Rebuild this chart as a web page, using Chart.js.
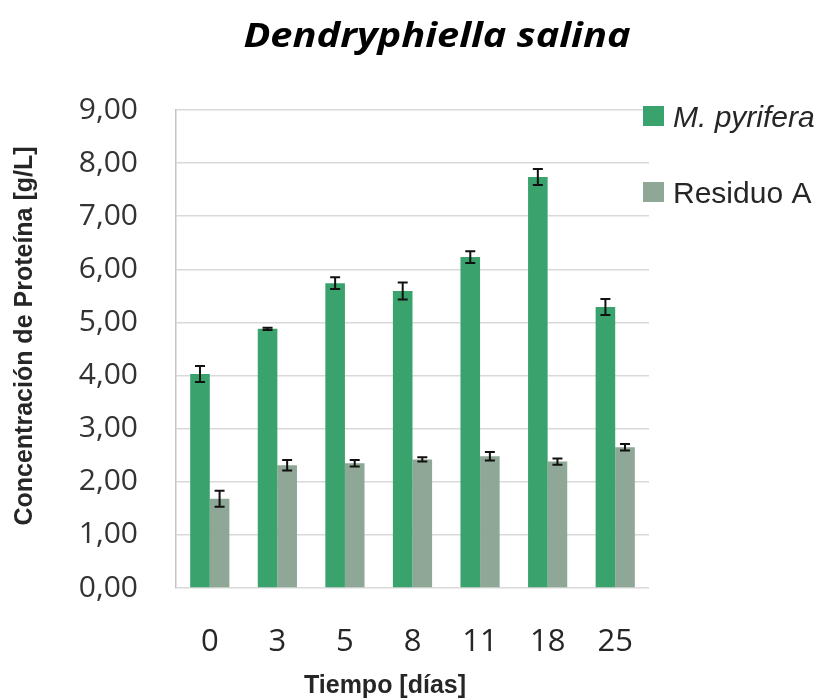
<!DOCTYPE html>
<html>
<head>
<meta charset="utf-8">
<script src="https://cdn.jsdelivr.net/npm/chart.js@4"></script>
<style>
  html, body { margin: 0; padding: 0; background: #fff; }
  #wrap { width: 822px; height: 700px; position: relative; }
</style>
</head>
<body>
<div id="wrap"><canvas id="c" width="822" height="700"></canvas></div>
<script>
const categories = ["0", "3", "5", "8", "11", "18", "25"];
const pyriferaValues = [4.03, 4.88, 5.74, 5.59, 6.23, 7.74, 5.29];
const pyriferaErrors = [0.15, 0.02, 0.11, 0.16, 0.11, 0.15, 0.15];
const residuoValues = [1.68, 2.31, 2.35, 2.42, 2.48, 2.38, 2.65];
const residuoErrors = [0.15, 0.10, 0.06, 0.04, 0.08, 0.06, 0.06];
const yTicks = [0, 1, 2, 3, 4, 5, 6, 7, 8, 9];
const titleText = "Dendryphiella salina";
const xTitle = "Tiempo [días]";
const yTitle = "Concentración de Proteína [g/L]";
const seriesNames = ["M. pyrifera", "Residuo A"];

const errors = [pyriferaErrors, residuoErrors];

const errorBarPlugin = {
  id: 'errorBars',
  afterDatasetsDraw(chart) {
    const ctx = chart.ctx;
    const ys = chart.scales.y;
    ctx.save();
    ctx.strokeStyle = '#111';
    ctx.lineWidth = 2;
    chart.data.datasets.forEach((ds, di) => {
      const meta = chart.getDatasetMeta(di);
      meta.data.forEach((bar, i) => {
        const v = ds.data[i], e = errors[di][i];
        const x = bar.x;
        const yTop = ys.getPixelForValue(v + e);
        const yBot = ys.getPixelForValue(v - e);
        const cap = 5;
        ctx.beginPath();
        ctx.moveTo(x, yTop); ctx.lineTo(x, yBot);
        ctx.moveTo(x - cap, yTop); ctx.lineTo(x + cap, yTop);
        ctx.moveTo(x - cap, yBot); ctx.lineTo(x + cap, yBot);
        ctx.stroke();
      });
    });
    ctx.restore();
  }
};

const decorPlugin = {
  id: 'decor',
  afterDraw(chart) {
    const ctx = chart.ctx;
    ctx.save();
    // Title
    ctx.save();
    ctx.fillStyle = '#000';
    ctx.font = 'italic bold 34px "Open Sans", sans-serif';
    ctx.textAlign = 'center';
    ctx.textBaseline = 'alphabetic';
    ctx.translate(437, 47);
    ctx.scale(1.17, 1);
    ctx.fillText(titleText, 0, 0);
    ctx.restore();
    // X axis title
    ctx.font = 'bold 25px "Liberation Sans", Arial, sans-serif';
    ctx.fillStyle = '#262626';
    ctx.textAlign = 'center';
    ctx.textBaseline = 'middle';
    ctx.fillText(xTitle, 385, 686);
    // Y axis title
    ctx.save();
    ctx.translate(25, 336);
    ctx.rotate(-Math.PI / 2);
    ctx.fillText(yTitle, 0, 0);
    ctx.restore();
    // Legend
    ctx.textAlign = 'left';
    ctx.textBaseline = 'alphabetic';
    const legendBase = [127, 203];
    chart.data.datasets.forEach((ds, di) => {
      const b = legendBase[di];
      ctx.fillStyle = ds.backgroundColor;
      ctx.fillRect(643, b - 21, 21, 20);
      ctx.fillStyle = '#262626';
      ctx.font = (di === 0 ? 'italic ' : '') + '30px "Liberation Sans", Arial, sans-serif';
      ctx.fillText(seriesNames[di], 673, b);
    });
    ctx.restore();
  }
};

new Chart(document.getElementById('c'), {
  type: 'bar',
  data: {
    labels: categories,
    datasets: [
      { label: seriesNames[0], data: pyriferaValues, backgroundColor: '#3aa36d', borderWidth: 0 },
      { label: seriesNames[1], data: residuoValues, backgroundColor: '#8ea796', borderWidth: 0 }
    ]
  },
  options: {
    responsive: false,
    animation: false,
    devicePixelRatio: 1,
    layout: { padding: { top: 110, right: 173, left: 0, bottom: 0 } },
    plugins: { legend: { display: false }, title: { display: false }, tooltip: { enabled: false } },
    datasets: { bar: { categoryPercentage: 0.58, barPercentage: 1.0 } },
    scales: {
      x: {
        grid: { display: false },
        border: { display: false },
        ticks: { color: '#262626', font: { family: '"Open Sans", sans-serif', size: 31 }, padding: 28 },
        afterFit(scale) { scale.height = 112; }
      },
      y: {
        min: 0, max: 9,
        afterBuildTicks(scale) { scale.ticks = yTicks.map(v => ({ value: v })); },
        grid: { color: '#d9d9d9', lineWidth: 1.5, drawTicks: false },
        border: { display: true, color: '#c4c4c4', width: 1.5 },
        ticks: {
          color: '#333',
          font: { family: '"Open Sans", sans-serif', size: 30 },
          padding: 38,
          callback: v => v.toFixed(2).replace('.', ',')
        },
        afterFit(scale) { scale.width = 176; }
      }
    }
  },
  plugins: [errorBarPlugin, decorPlugin]
});
</script>
</body>
</html>
